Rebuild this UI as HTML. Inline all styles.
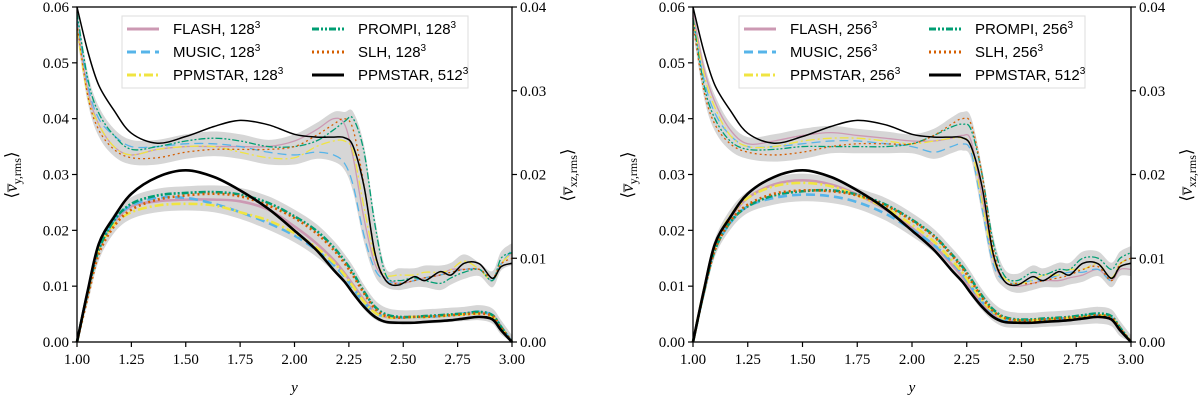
<!DOCTYPE html>
<html><head><meta charset="utf-8">
<style>
html,body{margin:0;padding:0;background:#fff;}
svg{display:block;font-family:"Liberation Serif",serif;}
.leg{font-family:"Liberation Sans",sans-serif;}
</style></head>
<body>
<svg id="chart" width="1200" height="400" viewBox="0 0 1200 400" xmlns="http://www.w3.org/2000/svg"></svg>
<script>
// ---- data ----
const xGrid = [1.00,1.05,1.10,1.17,1.25,1.37,1.50,1.63,1.75,1.88,2.00,2.10,2.18,2.23,2.27,2.32,2.37,2.42,2.48,2.55,2.60,2.67,2.72,2.78,2.85,2.91,2.95,3.00];
const xTicks = [1.00,1.25,1.50,1.75,2.00,2.25,2.50,2.75,3.00];
const yLeftTicks = [0,0.01,0.02,0.03,0.04,0.05,0.06];
const yRightTicks = [0,0.01,0.02,0.03,0.04];
const seriesNames = ["FLASH","MUSIC","PPMSTAR","PROMPI","SLH","PPMSTAR"];
const resLeft = ["128","128","128","128","128","512"];
const resRight = ["256","256","256","256","256","512"];

// upper curves (vy,rms, left axis)
const blackUp = [0.060,0.052,0.046,0.0415,0.0374,0.0356,0.0368,0.0386,0.0397,0.0389,0.0372,0.0367,0.0367,0.0366,0.035,0.0278,0.0159,0.011,0.0102,0.0117,0.011,0.0126,0.012,0.0141,0.014,0.0114,0.0135,0.0141];
const flashUp128 = [0.057,0.045,0.039,0.035,0.0335,0.0345,0.035,0.035,0.035,0.035,0.036,0.038,0.040,0.039,0.033,0.022,0.014,0.0115,0.0105,0.011,0.0115,0.012,0.013,0.013,0.013,0.011,0.014,0.016];
const musicUp128 = [0.058,0.046,0.040,0.037,0.035,0.035,0.0355,0.0355,0.035,0.034,0.0335,0.034,0.0335,0.032,0.028,0.019,0.013,0.011,0.0105,0.011,0.0115,0.012,0.0125,0.013,0.013,0.011,0.014,0.0165];
const ppmUp128 = [0.056,0.044,0.039,0.035,0.0335,0.0345,0.035,0.035,0.034,0.033,0.033,0.035,0.036,0.036,0.034,0.024,0.015,0.012,0.012,0.012,0.0125,0.0125,0.013,0.0145,0.013,0.011,0.014,0.016];
const prompiUp128 = [0.059,0.047,0.041,0.037,0.0345,0.035,0.036,0.0365,0.036,0.035,0.035,0.036,0.038,0.0395,0.040,0.034,0.021,0.012,0.011,0.0115,0.011,0.0105,0.0115,0.0125,0.013,0.011,0.015,0.016];
const slhUp128 = [0.057,0.044,0.038,0.0345,0.033,0.033,0.034,0.0345,0.0345,0.0345,0.035,0.037,0.039,0.040,0.038,0.028,0.016,0.011,0.0105,0.011,0.0115,0.012,0.0125,0.013,0.013,0.0115,0.014,0.015];

const flashUp256 = [0.059,0.049,0.043,0.038,0.0355,0.036,0.037,0.0375,0.037,0.0365,0.036,0.036,0.0365,0.037,0.036,0.026,0.015,0.011,0.010,0.0105,0.011,0.011,0.0115,0.012,0.013,0.011,0.013,0.013];
const musicUp256 = [0.058,0.047,0.041,0.037,0.035,0.035,0.0355,0.036,0.036,0.0355,0.035,0.034,0.035,0.0355,0.034,0.024,0.014,0.011,0.0105,0.011,0.011,0.012,0.0125,0.0125,0.013,0.011,0.014,0.015];
const ppmUp256 = [0.058,0.048,0.042,0.037,0.035,0.035,0.036,0.0365,0.0365,0.036,0.0355,0.036,0.0365,0.0365,0.035,0.025,0.015,0.0115,0.0105,0.011,0.012,0.012,0.013,0.013,0.014,0.0115,0.014,0.015];
const prompiUp256 = [0.058,0.046,0.040,0.036,0.0345,0.0345,0.035,0.035,0.035,0.035,0.0355,0.037,0.0385,0.039,0.038,0.030,0.018,0.012,0.011,0.0125,0.012,0.013,0.013,0.015,0.015,0.013,0.015,0.016];
const slhUp256 = [0.057,0.045,0.039,0.0355,0.034,0.0335,0.034,0.035,0.0355,0.0355,0.0355,0.037,0.039,0.040,0.039,0.030,0.017,0.011,0.0105,0.0105,0.011,0.0115,0.012,0.013,0.0135,0.011,0.014,0.015];

// lower curves (vxz,rms, right axis)
const blackLo = [0,0.0062,0.0117,0.0149,0.0177,0.0197,0.0205,0.0197,0.0181,0.0159,0.0133,0.011,0.0086,0.0072,0.0058,0.0042,0.003,0.0024,0.0023,0.0023,0.0024,0.0025,0.0026,0.0028,0.003,0.0027,0.0014,0];
const flashLo128 = [0,0.006,0.011,0.0142,0.0162,0.0168,0.017,0.017,0.0168,0.0158,0.0138,0.0118,0.0098,0.0082,0.0068,0.005,0.0036,0.003,0.0029,0.003,0.003,0.0031,0.0032,0.0034,0.0035,0.0032,0.0018,0];
const musicLo128 = [0,0.006,0.011,0.0145,0.0163,0.0172,0.0172,0.0165,0.0155,0.0142,0.0127,0.011,0.0092,0.0078,0.0064,0.0047,0.0035,0.003,0.0029,0.003,0.003,0.0031,0.0032,0.0034,0.0036,0.0032,0.0018,0];
const ppmLo128 = [0,0.006,0.011,0.014,0.0155,0.0163,0.0165,0.0163,0.0155,0.0145,0.013,0.0113,0.0095,0.008,0.0066,0.0048,0.0035,0.003,0.0029,0.003,0.003,0.0031,0.0032,0.0033,0.0034,0.003,0.0017,0];
const prompiLo128 = [0,0.006,0.011,0.0145,0.0165,0.0175,0.0178,0.0179,0.0176,0.0166,0.015,0.0133,0.0113,0.0097,0.0082,0.006,0.0042,0.0033,0.003,0.003,0.0031,0.0032,0.0033,0.0034,0.0036,0.0032,0.0018,0];
const slhLo128 = [0,0.0055,0.0105,0.0138,0.0158,0.017,0.0175,0.0177,0.0174,0.0163,0.0148,0.013,0.011,0.0094,0.0079,0.0058,0.004,0.0031,0.0029,0.003,0.003,0.0031,0.0032,0.0033,0.0034,0.0031,0.0017,0];

const flashLo256 = [0,0.0062,0.0115,0.0148,0.0172,0.0188,0.0193,0.0188,0.0176,0.0158,0.0136,0.0115,0.0093,0.0078,0.0063,0.0046,0.0033,0.0026,0.0025,0.0025,0.0026,0.0027,0.0028,0.0029,0.003,0.0027,0.0015,0];
const musicLo256 = [0,0.006,0.011,0.0142,0.0162,0.0172,0.0176,0.0174,0.0167,0.0153,0.0134,0.0116,0.0096,0.0081,0.0066,0.0048,0.0035,0.0027,0.0026,0.0026,0.0027,0.0028,0.0029,0.0031,0.0032,0.0029,0.0016,0];
const ppmLo256 = [0,0.0062,0.0115,0.015,0.0172,0.0186,0.019,0.0186,0.0175,0.016,0.014,0.012,0.0098,0.0083,0.0068,0.005,0.0036,0.0028,0.0026,0.0026,0.0027,0.0028,0.0029,0.003,0.0032,0.0029,0.0016,0];
const prompiLo256 = [0,0.006,0.011,0.0143,0.0162,0.0175,0.018,0.0181,0.0176,0.0164,0.0146,0.0127,0.0105,0.009,0.0075,0.0055,0.0039,0.003,0.0027,0.0027,0.0028,0.0029,0.003,0.0032,0.0034,0.0031,0.0017,0];
const slhLo256 = [0,0.006,0.011,0.0144,0.0164,0.0177,0.0181,0.018,0.0175,0.0163,0.0145,0.0126,0.0104,0.0088,0.0073,0.0053,0.0037,0.0029,0.0026,0.0026,0.0027,0.0028,0.0029,0.003,0.0032,0.0029,0.0016,0];

// ---- drawing ----
const NS = "http://www.w3.org/2000/svg";
const svg = document.getElementById("chart");
function mk(tag, attrs, parent){
  const e = document.createElementNS(NS, tag);
  for (const k in attrs) e.setAttribute(k, attrs[k]);
  (parent||svg).appendChild(e);
  return e;
}
const styles = [
  {c:"#cc99b3", dash:"", wU:1.3, wL:2.6},
  {c:"#56b4e9", dash:"9,5", wU:1.3, wL:2.6},
  {c:"#f0e442", dash:"9,3,2,3", wU:1.3, wL:2.6},
  {c:"#009e73", dash:"7,2,2,2,2,2", wU:1.3, wL:2.6},
  {c:"#d55e00", dash:"2,3", wU:1.3, wL:2.6},
  {c:"#000000", dash:"", wU:1.5, wL:2.6}
];
function smoothPath(pts){
  let d = "M" + pts[0][0].toFixed(2) + "," + pts[0][1].toFixed(2);
  for (let i=0;i<pts.length-1;i++){
    const p0 = pts[Math.max(0,i-1)], p1 = pts[i], p2 = pts[i+1], p3 = pts[Math.min(pts.length-1,i+2)];
    const c1x = p1[0]+(p2[0]-p0[0])/6, c1y = p1[1]+(p2[1]-p0[1])/6;
    const c2x = p2[0]-(p3[0]-p1[0])/6, c2y = p2[1]-(p3[1]-p1[1])/6;
    d += "C"+c1x.toFixed(2)+","+c1y.toFixed(2)+" "+c2x.toFixed(2)+","+c2y.toFixed(2)+" "+p2[0].toFixed(2)+","+p2[1].toFixed(2);
  }
  return d;
}
function panel(opt){
  const L = opt.x0, R = opt.x1, T = 7, B = 342;
  const xs = v => L + (v-1)/2*(R-L);
  const yl = v => B - v/0.06*(B-T);
  const yr = v => B - v/0.04*(B-T);
  const g = mk("g", {});
  
  
  function band(sets, scale, pad, nm){
    const lo=[], hi=[];
    for (let i=0;i<xGrid.length;i++){
      const vals = sets.map(s=>s[i]);
      lo.push([xs(xGrid[i]), scale(Math.max(0,Math.min(...vals)-pad))]);
      hi.push([xs(xGrid[i]), scale(Math.max(...vals)+pad)]);
    }
    const d = smoothPath(hi) + "L" + smoothPath(lo.slice().reverse()).slice(1) + "Z";
    const p = mk("path", {d:d, fill:"#d6d6d6", stroke:"none"}, g);
    
    
  }
  band(opt.up.slice(0,5), yl, 0.0012, "upper-spread-band");
  band(opt.lo.slice(0,5), yr, 0.0008, "lower-spread-band");
  [0,1,2,3,4,5].forEach(k=>{
    const st = styles[k];
    const pu = xGrid.map((x,i)=>[xs(x), yl(opt.up[k][i])]);
    const a = mk("path", {d:smoothPath(pu), fill:"none", stroke:st.c, "stroke-width":st.wU, "stroke-dasharray":st.dash}, g);
    
    
    const pl = xGrid.map((x,i)=>[xs(x), yr(opt.lo[k][i])]);
    const b = mk("path", {d:smoothPath(pl), fill:"none", stroke:st.c, "stroke-width":st.wL, "stroke-dasharray":st.dash}, g);
    
    
  });
  const fr = mk("rect", {x:L, y:T, width:R-L, height:B-T, fill:"none", stroke:"#000", "stroke-width":1.3}, g);
  
  
  xTicks.forEach(v=>{
    mk("line",{x1:xs(v),x2:xs(v),y1:B,y2:B+5,stroke:"#000","stroke-width":1.2},g);
    const t = mk("text",{x:xs(v),y:B+22,"text-anchor":"middle","font-size":15},g);
    t.textContent = v.toFixed(2);
    
    
  });
  yLeftTicks.forEach(v=>{
    mk("line",{x1:L-5,x2:L,y1:yl(v),y2:yl(v),stroke:"#000","stroke-width":1.2},g);
    const t = mk("text",{x:L-8,y:yl(v)+5,"text-anchor":"end","font-size":15},g);
    t.textContent = v.toFixed(2);
    
    
  });
  yRightTicks.forEach(v=>{
    mk("line",{x1:R,x2:R+5,y1:yr(v),y2:yr(v),stroke:"#000","stroke-width":1.2},g);
    const t = mk("text",{x:R+8,y:yr(v)+5,"text-anchor":"start","font-size":15},g);
    t.textContent = v.toFixed(2);
    
    
  });
  const xl = mk("text",{x:(L+R)/2,y:392,"text-anchor":"middle","font-size":15,"font-style":"italic"},g);
  xl.textContent = "y";
  
  
  const ylab = mk("text",{transform:"translate("+(L-60)+",175) rotate(-90)","text-anchor":"middle","font-size":17},g);
  ylab.innerHTML = '⟨<tspan font-style="italic">v̅</tspan><tspan font-size="12" dy="4">y,rms</tspan><tspan dy="-4">⟩</tspan>';
  
  
  const yrab = mk("text",{transform:"translate("+(R+61)+",175) rotate(-90)","text-anchor":"middle","font-size":17},g);
  yrab.innerHTML = '⟨<tspan font-style="italic">v̅</tspan><tspan font-size="12" dy="4">xz,rms</tspan><tspan dy="-4">⟩</tspan>';
  
  
  const lx = opt.legX, ly = 16, lw = 346, lh = 72;
  const lg = mk("g", {class:"leg"}, g);
  
  
  mk("rect",{x:lx,y:ly,width:lw,height:lh,fill:"#fff","fill-opacity":0.85,stroke:"#ddd","stroke-width":1},lg);
  for (let k=0;k<6;k++){
    const col = k<3?0:1, row = k%3;
    const ex = lx + 5 + col*185, ey = ly + 13 + row*23;
    const st = styles[k];
    mk("line",{x1:ex,x2:ex+32,y1:ey,y2:ey,stroke:st.c,"stroke-width":3,"stroke-dasharray":st.dash},lg);
    const t = mk("text",{x:ex+46,y:ey+5,"font-size":15},lg);
    t.innerHTML = seriesNames[k]+", "+opt.res[k]+'<tspan font-size="10" dy="-6">3</tspan>';
    
    
  }
}
panel({name:"left-panel-128", x0:77, x1:512, legX:122, res:resLeft,
  up:[flashUp128,musicUp128,ppmUp128,prompiUp128,slhUp128,blackUp],
  lo:[flashLo128,musicLo128,ppmLo128,prompiLo128,slhLo128,blackLo]});
panel({name:"right-panel-256", x0:693, x1:1131, legX:739, res:resRight,
  up:[flashUp256,musicUp256,ppmUp256,prompiUp256,slhUp256,blackUp],
  lo:[flashLo256,musicLo256,ppmLo256,prompiLo256,slhLo256,blackLo]});
</script>
</body></html>
